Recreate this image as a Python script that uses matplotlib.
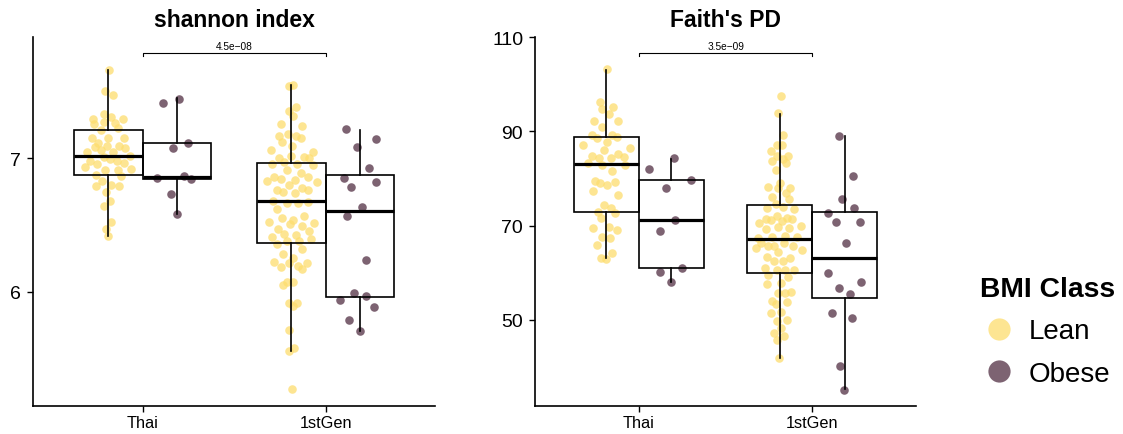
import numpy as np
import matplotlib
matplotlib.use('Agg')
import matplotlib.pyplot as plt
from matplotlib.lines import Line2D

plt.rcParams['font.family'] = ['Liberation Sans', 'DejaVu Sans']

##########################################################
#________________________ Data __________________________#

categories = ['Thai', '1stGen']
groups = ['Lean', 'Obese']
metrics = ['shannon index', "Faith's PD"]
p_labels = ['4.5e\u221208', '3.5e\u221209']

# shannon index - jittered points (value, x offset from box centre)
sh_thai_lean = [7.664, 7.502, 7.475, 7.33, 7.307, 7.295, 7.292, 7.274, 7.257, 7.265, 7.229, 7.214, 7.152, 7.152,
                7.15, 7.115, 7.082, 7.094, 7.09, 7.075, 7.05, 7.062, 7.05, 7.015, 7.007, 6.982, 6.995, 6.982,
                6.965, 6.933, 6.955, 6.915, 6.915, 6.92, 6.875, 6.865, 6.828, 6.80, 6.795, 6.79, 6.745, 6.678,
                6.645, 6.525, 6.47, 6.415]
sh_thai_lean_jit = [0.005, -0.018, 0.022, -0.027, 0.015, -0.086, 0.082, -0.022, -0.077, 0.033, 0.051, -0.042,
                    -0.091, 0.0, 0.087, -0.055, -0.073, -0.009, 0.055, 0.091, -0.115, -0.042, 0.027, 0.118,
                    -0.027, -0.1, 0.009, 0.049, 0.086, -0.131, -0.064, -0.018, 0.051, 0.122, -0.069, 0.067,
                    -0.033, 0.013, -0.069, 0.06, -0.015, 0.011, -0.022, 0.015, -0.015, 0.0]
sh_thai_obese = [7.412, 7.445, 7.075, 7.117, 6.852, 6.865, 6.845, 6.732, 6.582]
sh_thai_obese_jit = [-0.079, 0.01, -0.021, 0.061, -0.112, 0.037, 0.074, -0.034, 0.001]
sh_gen_lean = [7.54, 7.55, 7.387, 7.352, 7.315, 7.257, 7.244, 7.182, 7.165, 7.17, 7.152, 7.124, 7.094, 7.064,
               7.05, 7.017, 7.002, 7.007, 7.0, 6.957, 6.97, 6.957, 6.95, 6.912, 6.832, 6.862, 6.845, 6.888,
               6.858, 6.825, 6.8, 6.837, 6.765, 6.745, 6.74, 6.78, 6.765, 6.682, 6.667, 6.667, 6.67, 6.62,
               6.525, 6.552, 6.507, 6.537, 6.57, 6.513, 6.47, 6.49, 6.457, 6.432, 6.425, 6.408, 6.382, 6.395,
               6.382, 6.358, 6.318, 6.283, 6.25, 6.225, 6.213, 6.195, 6.215, 6.183, 6.17, 6.053, 6.07, 6.07,
               5.913, 5.915, 5.89, 5.715, 5.553, 5.576, 5.27]
sh_gen_lean_jit = [-0.011, 0.011, 0.026, -0.016, 0.007, -0.058, 0.056, -0.02, -0.067, 0.026, 0.051, -0.049,
                   0.004, -0.113, 0.117, -0.004, -0.067, 0.066, 0.098, -0.107, -0.038, 0.029, 0.12, -0.022,
                   -0.135, -0.095, -0.058, 0.053, 0.089, 0.138, -0.013, 0.02, -0.08, -0.044, 0.022, 0.06,
                   0.093, -0.098, -0.026, 0.038, 0.089, -0.08, -0.12, -0.053, -0.007, 0.007, 0.066, 0.124,
                   -0.075, 0.06, 0.097, -0.04, 0.026, -0.104, -0.022, 0.106, 0.044, -0.08, 0.06, -0.044,
                   0.011, -0.095, -0.011, 0.038, 0.087, -0.056, 0.056, -0.047, -0.026, 0.011, -0.011, 0.029,
                   0.011, -0.013, -0.011, 0.015, 0.002]
sh_gen_obese = [7.22, 7.142, 7.082, 6.93, 6.855, 6.82, 6.787, 6.633, 6.57, 6.238, 5.99, 5.97, 5.94, 5.888,
                5.788, 5.708]
sh_gen_obese_jit = [-0.078, 0.089, -0.015, 0.047, -0.087, 0.086, -0.051, 0.013, -0.071, 0.035, -0.035, 0.035,
                    -0.111, 0.075, -0.062, -0.002]

# Faith's PD - jittered points
pd_thai_lean = [103.27, 96.2, 95.28, 94.78, 93.72, 92.31, 92.17, 90.9, 89.27, 89.27, 88.63, 88.77, 87.71, 87.14,
                86.44, 86.15, 84.74, 84.38, 84.31, 85.23, 84.67, 83.25, 82.9, 82.9, 81.56, 79.43, 79.08, 78.73,
                79.22, 77.31, 76.53, 74.48, 73.84, 72.85, 72.71, 71.58, 69.53, 69.67, 69.17, 67.55, 67.41,
                65.99, 64.15, 63.09, 62.95]
pd_thai_lean_jit = [0.004, -0.035, 0.04, -0.025, 0.012, -0.073, 0.065, -0.025, -0.085, 0.031, -0.056, 0.062,
                    0.004, -0.137, 0.133, -0.012, -0.085, -0.046, 0.027, 0.065, 0.1, -0.108, -0.025, 0.104,
                    0.031, -0.069, -0.04, 0.004, 0.052, -0.079, 0.065, -0.012, 0.027, -0.05, 0.05, -0.031,
                    -0.075, 0.012, 0.063, -0.025, 0.023, -0.054, 0.031, -0.031, -0.002]
pd_thai_obese = [84.31, 82.05, 79.79, 78.09, 71.29, 68.82, 61.04, 60.26, 58.0]
pd_thai_obese_jit = [0.013, -0.129, 0.11, -0.033, 0.021, -0.067, 0.063, -0.067, 0.0]
pd_gen_lean = [97.47, 93.86, 89.34, 87.22, 87.14, 85.94, 84.88, 84.88, 83.68, 84.17, 83.32, 81.84, 79.0, 78.16,
               78.02, 78.02, 76.18, 76.89, 75.68, 74.62, 73.77, 74.06, 73.56, 71.44, 71.3, 72.01, 71.08, 71.58,
               71.44, 70.59, 69.32, 69.67, 69.46, 69.88, 67.69, 67.9, 67.41, 67.69, 66.27, 65.64, 66.27, 65.64,
               65.21, 64.51, 65.78, 64.93, 63.45, 62.6, 62.6, 63.16, 60.97, 60.62, 60.62, 60.69, 59.62, 59.2,
               57.79, 57.64, 55.66, 55.66, 55.88, 54.11, 53.75, 53.4, 51.49, 51.63, 49.72, 50.0, 48.31, 47.24,
               46.68, 45.76, 41.87]
pd_gen_lean_jit = [0.005, -0.009, 0.02, -0.018, 0.011, -0.053, 0.049, -0.018, -0.047, 0.02, 0.034, -0.024,
                   0.001, -0.066, 0.059, -0.009, -0.043, 0.034, 0.055, -0.024, -0.076, 0.02, 0.084, -0.082,
                   -0.051, -0.018, 0.011, 0.039, 0.072, -0.118, -0.082, -0.013, 0.053, 0.12, -0.047, 0.03,
                   -0.124, 0.097, -0.109, -0.032, 0.024, -0.07, -0.138, -0.009, 0.078, 0.13, -0.072, -0.032,
                   0.016, 0.059, -0.086, -0.018, 0.03, 0.084, -0.066, 0.049, 0.005, -0.076, -0.009, 0.03,
                   0.063, -0.043, 0.039, -0.024, -0.051, 0.007, -0.018, 0.039, 0.007, -0.034, 0.024, -0.018,
                   -0.003]
pd_gen_obese = [89.12, 80.63, 75.68, 73.7, 72.64, 70.73, 70.73, 66.27, 59.98, 58.0, 56.8, 55.52, 51.42, 50.36,
                40.31, 35.22]
pd_gen_obese_jit = [-0.034, 0.045, -0.018, 0.053, -0.095, -0.053, 0.088, 0.007, -0.095, 0.093, -0.034, 0.03,
                    -0.076, 0.039, -0.028, -0.003]

# box statistics: whisker low, q1, median, q3, whisker high
sh_boxes = {('Thai', 'Lean'): [6.415, 6.877, 7.015, 7.212, 7.664],
            ('Thai', 'Obese'): [6.583, 6.843, 6.857, 7.115, 7.45],
            ('1stGen', 'Lean'): [5.553, 6.363, 6.677, 6.967, 7.549],
            ('1stGen', 'Obese'): [5.708, 5.963, 6.603, 6.875, 7.214]}
pd_boxes = {('Thai', 'Lean'): [63.1, 72.86, 83.05, 88.78, 103.1],
            ('Thai', 'Obese'): [58.0, 60.97, 71.3, 79.78, 84.17],
            ('1stGen', 'Lean'): [41.94, 59.9, 67.2, 74.41, 93.7],
            ('1stGen', 'Obese'): [35.36, 54.6, 63.16, 72.86, 89.1]}

sh_points = {('Thai', 'Lean'): (sh_thai_lean, sh_thai_lean_jit),
             ('Thai', 'Obese'): (sh_thai_obese, sh_thai_obese_jit),
             ('1stGen', 'Lean'): (sh_gen_lean, sh_gen_lean_jit),
             ('1stGen', 'Obese'): (sh_gen_obese, sh_gen_obese_jit)}
pd_points = {('Thai', 'Lean'): (pd_thai_lean, pd_thai_lean_jit),
             ('Thai', 'Obese'): (pd_thai_obese, pd_thai_obese_jit),
             ('1stGen', 'Lean'): (pd_gen_lean, pd_gen_lean_jit),
             ('1stGen', 'Obese'): (pd_gen_obese, pd_gen_obese_jit)}

bracket_y = [7.787, 106.6]
ylims = [(5.145, 7.909), (31.8, 110.06)]
yticks = [[6, 7], [50, 70, 90, 110]]

colors = {'Lean': '#FDDD6E', 'Obese': '#6F5263'}
alphas = {'Lean': 0.75, 'Obese': 0.9}

##########################################################

fig = plt.figure(figsize=(11.23, 4.35), dpi=100)
ax1 = fig.add_axes([0.0294, 0.0651, 0.3584, 0.8476])
ax2 = fig.add_axes([0.4764, 0.0651, 0.3395, 0.8476])

dodge = 0.1875
box_w = 0.375


def draw_panel(ax, title, points, boxes, ylim, ticks, by, plab):
    # jittered points
    for i, cat in enumerate(categories):
        for j, grp in enumerate(groups):
            centre = i + 1 + (dodge if j else -dodge)
            vals, jit = points[(cat, grp)]
            xs = centre + np.array(jit)
            ax.scatter(xs, vals, s=38, color=colors[grp], alpha=alphas[grp],
                       linewidths=0, zorder=2)

    # boxes on top, no fill
    stats = []
    pos = []
    for i, cat in enumerate(categories):
        for j, grp in enumerate(groups):
            lo, q1, med, q3, hi = boxes[(cat, grp)]
            stats.append({'whislo': lo, 'q1': q1, 'med': med, 'q3': q3, 'whishi': hi, 'fliers': []})
            pos.append(i + 1 + (dodge if j else -dodge))
    ax.bxp(stats, positions=pos, widths=box_w, showfliers=False, showcaps=False,
           patch_artist=True, manage_ticks=False,
           boxprops=dict(facecolor='none', edgecolor='black', linewidth=1.2),
           whiskerprops=dict(color='black', linewidth=1.2),
           medianprops=dict(color='black', linewidth=2.3, solid_capstyle='butt'),
           zorder=3)

    # significance bracket
    h = (ylim[1] - ylim[0]) * 0.008
    ax.plot([1, 1, 2, 2], [by - h, by, by, by - h], color='black', lw=0.8, zorder=4)
    ax.text(1.5, by + h * 0.9, plab, ha='center', va='bottom', fontsize=7.3)

    ax.set_xlim(0.4, 2.6)
    ax.set_ylim(*ylim)
    ax.set_xticks([1, 2])
    ax.set_xticklabels(categories)
    ax.set_yticks(ticks)
    ax.spines[['top', 'right']].set_visible(False)
    ax.spines[['left', 'bottom']].set_linewidth(1.2)
    ax.tick_params(axis='both', length=4, width=1.0, color='black')
    ax.tick_params(axis='x', labelsize=11.7, pad=3)
    ax.tick_params(axis='y', labelsize=14, pad=4.5)
    ax.text(0.5, 1.031, title, transform=ax.transAxes, ha='center', va='baseline',
            fontsize=16.5, fontweight='bold')


draw_panel(ax1, metrics[0], sh_points, sh_boxes, ylims[0], yticks[0], bracket_y[0], p_labels[0])
draw_panel(ax2, metrics[1], pd_points, pd_boxes, ylims[1], yticks[1], bracket_y[1], p_labels[1])

handles = [Line2D([], [], marker='o', ls='', markersize=16, markeredgewidth=0,
                  color=colors[g], alpha=alphas[g]) for g in groups]
leg = fig.legend(handles, groups, title='BMI Class', loc='upper left',
                 bbox_to_anchor=(0.8727, 0.364), frameon=False, fontsize=20,
                 title_fontproperties={'weight': 'bold', 'size': 20.3},
                 handlelength=1.35, handletextpad=0.4, labelspacing=0.6,
                 borderpad=0, borderaxespad=0)
leg._legend_box.align = 'left'

fig.savefig('out.png', dpi=100)
